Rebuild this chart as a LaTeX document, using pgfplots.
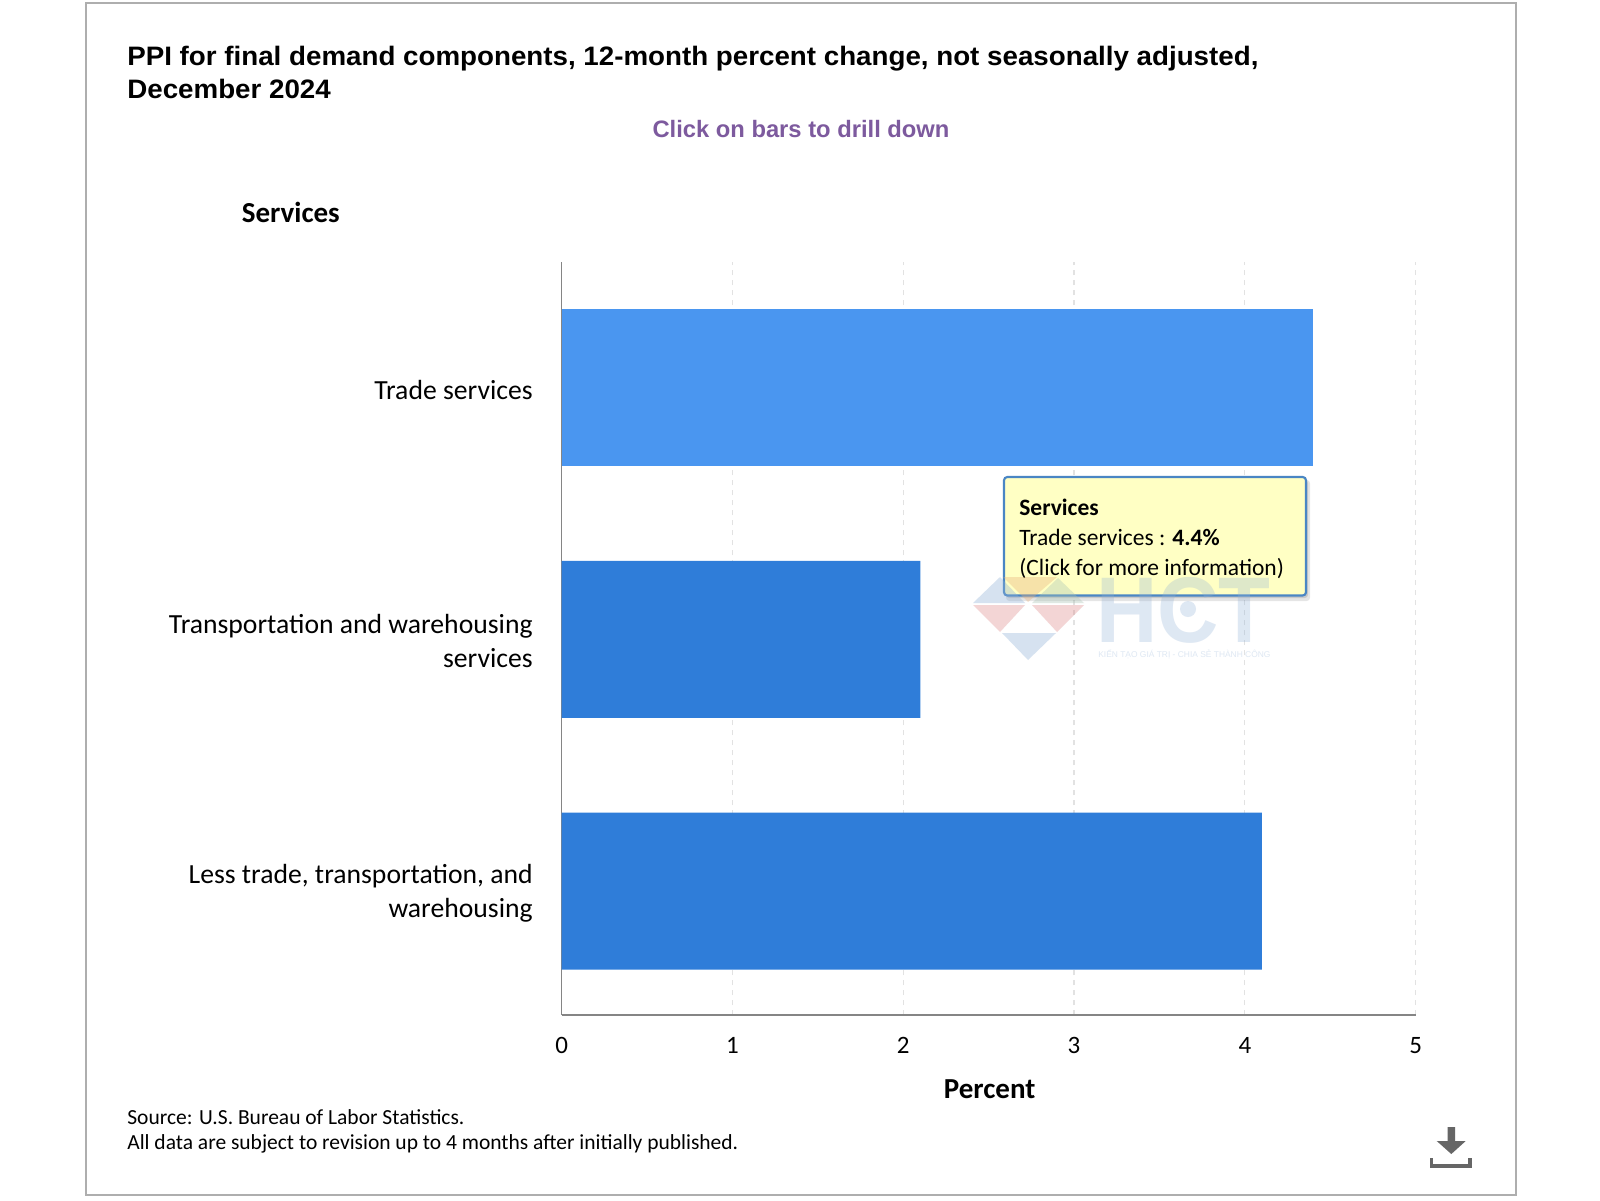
\documentclass[border=0pt]{standalone}
\usepackage{fontspec}
\usepackage{pgfplots}
\pgfplotsset{compat=1.18}
\setmainfont{Carlito}
\newfontfamily\arialfont{Liberation Sans}
\definecolor{barlight}{HTML}{4A96F0}
\definecolor{bardark}{HTML}{2F7DD9}
\definecolor{axisgray}{HTML}{858585}
\definecolor{gridgray}{HTML}{E2E2E2}
\definecolor{framegray}{HTML}{AEAEAE}
\definecolor{subpurple}{HTML}{7D5A9E}
\definecolor{tipfill}{HTML}{FFFFC4}
\definecolor{tipline}{HTML}{4A86C4}
\definecolor{iconcol}{HTML}{666666}
\definecolor{wmblue}{HTML}{8FB0D6}
\definecolor{wmred}{HTML}{DE8C8C}
\definecolor{wmorange}{HTML}{E8B07A}
\definecolor{wmgreen}{HTML}{A9C4B4}
\begin{document}
\begin{tikzpicture}
\begin{scope}[x=0.6pt,y=-0.6pt]
  \fill[white] (0,0) rectangle (1600,1200);
  \draw[framegray,line width=1.2pt] (86,3) rectangle (1516,1195);
  \node[anchor=base west,inner sep=0pt,xscale=1.04,font=\arialfont\bfseries\fontsize{16}{18}\selectfont] at (127,65) {PPI for final demand components, 12-month percent change, not seasonally adjusted,};
  \node[anchor=base west,inner sep=0pt,xscale=1.04,font=\arialfont\bfseries\fontsize{16}{18}\selectfont] at (127,98) {December 2024};
  \node[anchor=base,inner sep=0pt,text=subpurple,font=\arialfont\bfseries\fontsize{14.25}{18}\selectfont] at (801,137) {Click on bars to drill down};
  \node[anchor=base west,inner sep=0pt,font=\bfseries\fontsize{17.4}{18}\selectfont] at (241.5,222) {Services};
\end{scope}

\begin{axis}[
  at={(337pt,-609pt)},
  anchor=south west,
  scale only axis,
  width=512.4pt,
  height=451.8pt,
  xbar,
  bar width=94.2pt,
  bar shift=0pt,
  xmin=0, xmax=5,
  ymin=-0.4925, ymax=2.4985,
  xtick={0,1,2,3,4,5},
  ytick={0,1,2},
  yticklabels={{Less trade, transportation, and\\warehousing},{Transportation and warehousing\\services},{Trade services}},
  axis x line*=bottom,
  axis y line*=left,
  axis line style={axisgray,line width=1pt,-},
  tick style={draw=none},
  xmajorgrids,
  grid style={gridgray,dashed,line width=0.7pt},
  /pgf/number format/assume math mode=true,
  xticklabel style={font=\fontsize{15}{18}\selectfont,yshift=-10pt},
  yticklabel style={font=\fontsize{16.6}{20.2}\selectfont,align=right,xshift=-9.6pt,yshift=-1.2pt},
  xlabel={\textbf{Percent}},
  xlabel style={font=\fontsize{17.4}{18}\selectfont,yshift=-8.6pt,xshift=0.6pt},
]
  \addplot[draw=none,fill=barlight] coordinates {(4.4,2)};
  \addplot[draw=none,fill=bardark] coordinates {(2.1,1) (4.1,0)};
\end{axis}

\begin{scope}[x=0.6pt,y=-0.6pt]
  % tooltip
  \fill[black,opacity=0.10,rounded corners=2pt] (1006,480) rectangle (1310,601);
  \fill[black,opacity=0.12,rounded corners=2pt] (1006,480) rectangle (1308,598);
  \draw[tipline,fill=tipfill,line width=1.3pt,rounded corners=2pt] (1004,477) rectangle (1306,595.5);
  \node[anchor=base west,inner sep=0pt,font=\bfseries\fontsize{14.1}{16}\selectfont] at (1019,515) {Services};
  \node[anchor=base west,inner sep=0pt,font=\fontsize{14.1}{16}\selectfont] at (1019,545) {Trade services : \textbf{4.4\%}};
  \node[anchor=base west,inner sep=0pt,font=\fontsize{14.1}{16}\selectfont] at (1019,575) {(Click for more information)};

  % watermark
  \begin{scope}[opacity=0.36]
    \fill[wmblue] (973,603) -- (1000,577) -- (1025,603) -- cycle;
    \fill[wmorange] (1003,577) -- (1057,577) -- (1028,602) -- cycle;
    \fill[wmgreen] (1032,603) -- (1058,578) -- (1084,603) -- cycle;
    \fill[wmred] (973,605) -- (1025,605) -- (1000,632) -- cycle;
    \fill[wmred] (1032,605) -- (1084,605) -- (1057,632) -- cycle;
    \fill[wmblue] (1002,633) -- (1056,633) -- (1028,660) -- cycle;
  \end{scope}
  \begin{scope}[opacity=0.29]
    \node[anchor=base west,inner sep=0pt,text=wmblue,xscale=0.91,font=\arialfont\bfseries\fontsize{56}{60}\selectfont] at (1096,642) {HCT};
    \fill[wmblue] (1188,609) circle (8);
    \node[anchor=base west,inner sep=0pt,text=wmblue,font=\arialfont\fontsize{5.05}{6}\selectfont] at (1098,657) {KIẾN TẠO GIÁ TRỊ - CHIA SẺ THÀNH CÔNG};
  \end{scope}

  % footer
  \node[anchor=base west,inner sep=0pt,font=\fontsize{12.9}{15}\selectfont] at (127,1124.5) {Source: U.S. Bureau of Labor Statistics.};
  \node[anchor=base west,inner sep=0pt,font=\fontsize{12.9}{15}\selectfont] at (127,1149) {All data are subject to revision up to 4 months after initially published.};

  % download icon
  \fill[iconcol] (1447.7,1127) -- (1455,1127) -- (1455,1141) -- (1465.7,1141) -- (1451.3,1154) -- (1436.7,1141) -- (1447.7,1141) -- cycle;
  \draw[iconcol,line width=2.1pt] (1431.7,1158) -- (1431.7,1166) -- (1470,1166) -- (1470,1158);
\end{scope}
\end{tikzpicture}
\end{document}
